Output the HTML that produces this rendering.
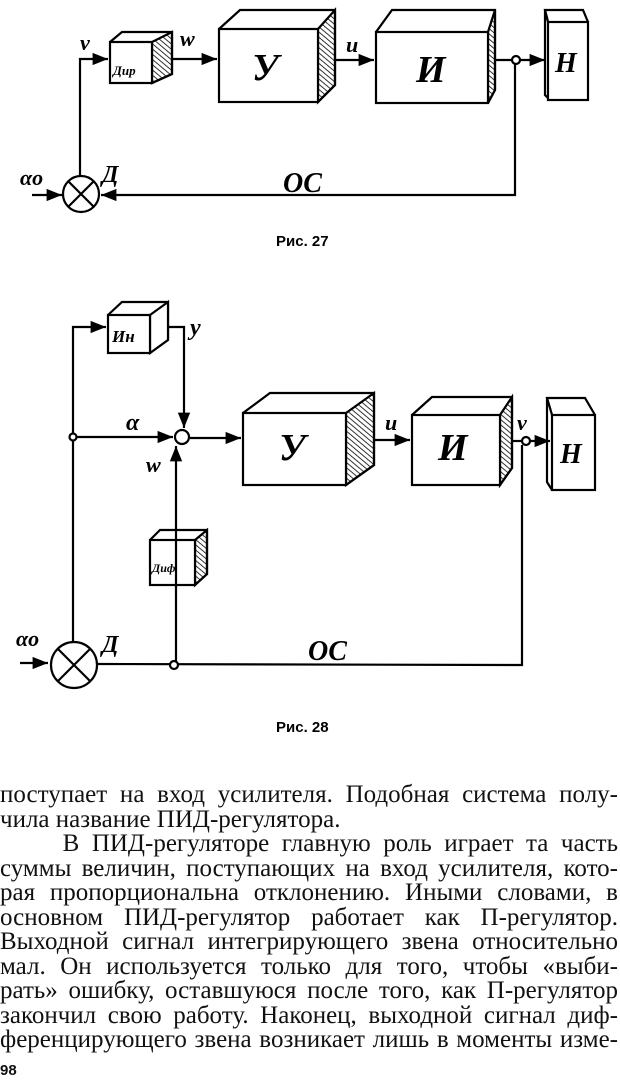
<!DOCTYPE html>
<html><head><meta charset="utf-8"><style>
body{margin:0;background:#fff;width:620px;height:1079px;overflow:hidden;position:relative}
svg{position:absolute;left:0;top:0}
.t{position:absolute;left:0;width:618px;font-family:"Liberation Serif",serif;font-size:25px;line-height:24.5px;top:783px;color:#111}
.t div{text-align:justify;text-align-last:justify;white-space:nowrap}
.t div.l{text-align-last:left}
.cap{font-family:"Liberation Sans",sans-serif;font-size:15px;font-weight:bold}
.lb{font-family:"Liberation Serif",serif;font-style:italic;font-weight:bold}
</style></head><body>
<svg width="620" height="1079" viewBox="0 0 620 1079">
<defs>
<pattern id="h" width="4" height="4" patternUnits="userSpaceOnUse" patternTransform="rotate(-50)"><line x1="0" y1="0" x2="0" y2="4" stroke="#000" stroke-width="1.6"/></pattern>
<marker id="a" viewBox="0 0 10 10" refX="10" refY="5" markerWidth="7" markerHeight="7" orient="auto"><path d="M0,1 L10,5 L0,9 z" fill="#000"/></marker>
</defs>
<g stroke="#000" stroke-width="2.2" fill="none">
<path d="M110,42 L122,32 L172,32 L172,74 L152,83" fill="#fff"/>
<path d="M152,42 L172,32 L172,74 L152,83 z" fill="url(#h)"/>
<rect x="110" y="42" width="42" height="41" fill="#fff"/>
<path d="M219,29 L240,10 L335,10 L335,85 L318,102" fill="#fff"/>
<path d="M318,29 L335,10 L335,85 L318,102 z" fill="url(#h)"/>
<rect x="219" y="29" width="99" height="73" fill="#fff"/>
<path d="M376,32 L392,10 L495,10 L495,90 L488,103" fill="#fff"/>
<path d="M488,32 L495,10 L495,90 L488,103 z" fill="url(#h)"/>
<rect x="376" y="32" width="112" height="71" fill="#fff"/>
<path d="M548,22 L545,10 L583,10 L588,22" fill="#fff"/>
<path d="M548,22 L545,10 L545,95 L550,100" fill="#fff"/>
<rect x="548" y="22" width="40" height="78" fill="#fff"/>
<path d="M80,178 L80,59 L108,59" marker-end="url(#a)"/>
<path d="M172,59 L217,59" marker-end="url(#a)"/>
<path d="M335,60 L374,60" marker-end="url(#a)"/>
<path d="M495,60 L512,60"/>
<path d="M520,60 L545,60" marker-end="url(#a)"/>
<circle cx="516" cy="60" r="4" fill="#fff"/>
<path d="M515,64 L515,195 L101,195" marker-end="url(#a)"/>
<path d="M32,195 L62,195" marker-end="url(#a)"/>
<circle cx="81" cy="194" r="18" fill="#fff"/>
<path d="M68,181 L94,207 M94,181 L68,207"/>
<path d="M108,315 L122,302 L168,302 L168,340 L150,353" fill="#fff"/>
<path d="M150,315 L168,302 L168,340 L150,353 z" fill="#fff"/>
<rect x="108" y="315" width="42" height="38" fill="#fff"/>
<path d="M150,540 L160,530 L207,530 L207,574 L195,585" fill="#fff"/>
<path d="M195,540 L207,530 L207,574 L195,585 z" fill="url(#h)"/>
<rect x="150" y="540" width="45" height="45" fill="#fff"/>
<path d="M243,413 L270,393 L374,393 L374,465 L346,485" fill="#fff"/>
<path d="M346,413 L374,393 L374,465 L346,485 z" fill="url(#h)"/>
<rect x="243" y="413" width="103" height="72" fill="#fff"/>
<path d="M412,415 L432,397 L512,397 L512,468 L500,485" fill="#fff"/>
<path d="M500,415 L512,397 L512,468 L500,485 z" fill="url(#h)"/>
<rect x="412" y="415" width="88" height="70" fill="#fff"/>
<path d="M552,415 L547,398 L585,398 L595,415" fill="#fff"/>
<path d="M552,415 L547,398 L547,482 L552,490" fill="#fff"/>
<rect x="552" y="415" width="43" height="75" fill="#fff"/>
<path d="M73,641 L73,327 L106,327" marker-end="url(#a)"/>
<path d="M168,327 L184,327 L184,428" marker-end="url(#a)"/>
<path d="M77,437 L173,437" marker-end="url(#a)"/>
<path d="M190,438 L241,438" marker-end="url(#a)"/>
<path d="M176,663 L176,446" marker-end="url(#a)"/>
<circle cx="182" cy="437" r="7" fill="#fff"/>
<circle cx="73" cy="437" r="3.5" fill="#fff"/>
<path d="M374,440 L410,440" marker-end="url(#a)"/>
<path d="M512,441 L522,441"/>
<path d="M530,441 L550,441" marker-end="url(#a)"/>
<circle cx="526" cy="441" r="4" fill="#fff"/>
<path d="M522,445 L522,665 L98,664"/>
<circle cx="174" cy="665" r="4" fill="#fff"/>
<path d="M20,663 L48,663" marker-end="url(#a)"/>
<circle cx="74" cy="665" r="23" fill="#fff"/>
<path d="M58,649 L90,681 M90,649 L58,681"/>
</g>
<g fill="#000">
<text class="lb" x="80" y="50" font-size="22">v</text>
<text class="lb" x="180" y="46" font-size="22">w</text>
<text class="lb" x="346" y="52" font-size="22">u</text>
<text class="lb" x="252" y="80" font-size="38">У</text>
<text class="lb" x="416" y="82" font-size="38">И</text>
<text class="lb" x="555" y="72" font-size="28">Н</text>
<text class="lb" x="113" y="75" font-size="13">Дир</text>
<text class="lb" x="20" y="185" font-size="22">αo</text>
<text class="lb" x="102" y="182" font-size="24">Д</text>
<text class="lb" x="283" y="192" font-size="28">ОС</text>
<text class="cap" x="276" y="246">Рис.  27</text>
<text class="lb" x="112" y="342" font-size="17">Ин</text>
<text class="lb" x="190" y="335" font-size="24">у</text>
<text class="lb" x="126" y="430" font-size="24">α</text>
<text class="lb" x="146" y="472" font-size="22">w</text>
<text class="lb" x="279" y="460" font-size="38">У</text>
<text class="lb" x="438" y="460" font-size="38">И</text>
<text class="lb" x="385" y="430" font-size="22">u</text>
<text class="lb" x="517" y="430" font-size="22">v</text>
<text class="lb" x="560" y="463" font-size="28">Н</text>
<text class="lb" x="152" y="572" font-size="12">Диф</text>
<text class="lb" x="16" y="646" font-size="22">αo</text>
<text class="lb" x="102" y="652" font-size="24">Д</text>
<text class="lb" x="308" y="660" font-size="28">ОС</text>
<text class="cap" x="276" y="732">Рис.  28</text>
</g>
</svg>
<div class="t">
<div>поступает на вход усилителя. Подобная система полу-</div>
<div class="l">чила название ПИД-регулятора.</div>
<div>&nbsp;&nbsp;&nbsp;&nbsp;&nbsp;В ПИД-регуляторе главную роль играет та часть</div>
<div>суммы величин, поступающих на вход усилителя, кото-</div>
<div>рая пропорциональна отклонению. Иными словами, в</div>
<div>основном ПИД-регулятор работает как П-регулятор.</div>
<div>Выходной сигнал интегрирующего звена относительно</div>
<div>мал. Он используется только для того, чтобы «выби-</div>
<div>рать» ошибку, оставшуюся после того, как П-регулятор</div>
<div>закончил свою работу. Наконец, выходной сигнал диф-</div>
<div>ференцирующего звена возникает лишь в моменты изме-</div>
<div class="l" style="font-family:'Liberation Sans',sans-serif;font-weight:bold;font-size:15px;margin-top:6px">98</div>
</div>
</body></html>
